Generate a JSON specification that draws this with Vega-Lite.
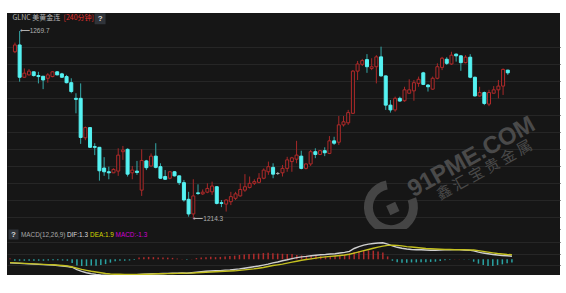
{
"$schema": "https://vega.github.io/schema/vega-lite/v6.json",
"background": "white",
"padding": {"left": 7, "top": 13, "right": 6, "bottom": 18},
"spacing": 0,
"bounds": "flush",
"config": {"view": {"fill": "#161616", "stroke": null}, "axis": {"labels": false, "ticks": false, "title": null, "domain": false, "grid": false, "minExtent": 0, "maxExtent": 0, "labelOverlap": false}},
"datasets": {
"k": [
{"i":0,"open":1263.6,"high":1266.3,"low":1263.2,"close":1265.6},
{"i":1,"open":1265.6,"high":1269.7,"low":1254.8,"close":1256.1},
{"i":2,"open":1256.1,"high":1258.7,"low":1256.0,"close":1257.3},
{"i":3,"open":1256.8,"high":1258.5,"low":1256.6,"close":1257.9},
{"i":4,"open":1257.7,"high":1257.8,"low":1256.3,"close":1256.6},
{"i":5,"open":1256.6,"high":1257.7,"low":1254.3,"close":1256.3},
{"i":6,"open":1256.4,"high":1256.5,"low":1252.6,"close":1255.3},
{"i":7,"open":1255.8,"high":1257.3,"low":1254.5,"close":1256.8},
{"i":8,"open":1256.3,"high":1257.9,"low":1256.1,"close":1257.7},
{"i":9,"open":1257.7,"high":1257.9,"low":1256.7,"close":1256.8},
{"i":10,"open":1257.1,"high":1257.4,"low":1255.9,"close":1256.1},
{"i":11,"open":1256.3,"high":1256.8,"low":1254.3,"close":1254.5},
{"i":12,"open":1254.5,"high":1255.8,"low":1251.4,"close":1251.9},
{"i":13,"open":1249.9,"high":1251.4,"low":1245.5,"close":1249.6},
{"i":14,"open":1249.9,"high":1254.3,"low":1236.5,"close":1238.4},
{"i":15,"open":1238.3,"high":1241.6,"low":1237.6,"close":1241.3},
{"i":16,"open":1241.3,"high":1241.4,"low":1235.3,"close":1235.5},
{"i":17,"open":1235.7,"high":1236.7,"low":1233.2,"close":1235.5},
{"i":18,"open":1235.5,"high":1235.6,"low":1225.7,"close":1228.6},
{"i":19,"open":1229.4,"high":1232.6,"low":1227.1,"close":1228.3},
{"i":20,"open":1228.3,"high":1229.8,"low":1226.1,"close":1228.0},
{"i":21,"open":1228.0,"high":1229.3,"low":1227.9,"close":1229.0},
{"i":22,"open":1228.5,"high":1235.2,"low":1227.1,"close":1233.2},
{"i":23,"open":1234.2,"high":1235.9,"low":1231.8,"close":1234.7},
{"i":24,"open":1234.9,"high":1235.2,"low":1226.9,"close":1227.6},
{"i":25,"open":1228.0,"high":1230.0,"low":1226.1,"close":1228.8},
{"i":26,"open":1228.5,"high":1231.5,"low":1227.4,"close":1228.1},
{"i":27,"open":1222.9,"high":1234.9,"low":1221.2,"close":1231.6},
{"i":28,"open":1231.5,"high":1231.8,"low":1228.8,"close":1229.5},
{"i":29,"open":1230.0,"high":1233.7,"low":1229.8,"close":1232.9},
{"i":30,"open":1232.9,"high":1236.7,"low":1229.3,"close":1229.6},
{"i":31,"open":1229.8,"high":1230.8,"low":1226.2,"close":1226.4},
{"i":32,"open":1226.9,"high":1228.8,"low":1225.9,"close":1226.1},
{"i":33,"open":1226.4,"high":1228.5,"low":1226.1,"close":1228.3},
{"i":34,"open":1228.3,"high":1228.5,"low":1226.9,"close":1227.1},
{"i":35,"open":1227.1,"high":1227.2,"low":1224.4,"close":1225.1},
{"i":36,"open":1225.1,"high":1225.9,"low":1219.5,"close":1220.0},
{"i":37,"open":1220.2,"high":1222.4,"low":1215.1,"close":1215.9},
{"i":38,"open":1215.9,"high":1226.1,"low":1214.3,"close":1221.2},
{"i":39,"open":1222.1,"high":1224.6,"low":1221.5,"close":1221.9},
{"i":40,"open":1221.8,"high":1223.1,"low":1221.5,"close":1222.3},
{"i":41,"open":1222.3,"high":1224.9,"low":1222.0,"close":1223.4},
{"i":42,"open":1222.4,"high":1225.4,"low":1221.5,"close":1224.1},
{"i":43,"open":1223.9,"high":1224.1,"low":1218.7,"close":1219.0},
{"i":44,"open":1219.2,"high":1220.0,"low":1217.9,"close":1219.0},
{"i":45,"open":1218.8,"high":1220.2,"low":1216.6,"close":1220.0},
{"i":46,"open":1219.5,"high":1222.4,"low":1218.5,"close":1221.0},
{"i":47,"open":1220.5,"high":1222.4,"low":1220.0,"close":1221.8},
{"i":48,"open":1221.2,"high":1224.9,"low":1221.0,"close":1223.1},
{"i":49,"open":1222.9,"high":1227.6,"low":1222.4,"close":1223.9},
{"i":50,"open":1223.7,"high":1226.9,"low":1223.4,"close":1224.9},
{"i":51,"open":1224.9,"high":1226.1,"low":1224.4,"close":1225.4},
{"i":52,"open":1225.2,"high":1227.9,"low":1224.9,"close":1226.4},
{"i":53,"open":1226.4,"high":1229.3,"low":1226.1,"close":1228.8},
{"i":54,"open":1228.3,"high":1231.3,"low":1227.4,"close":1229.8},
{"i":55,"open":1229.6,"high":1230.8,"low":1226.4,"close":1227.6},
{"i":56,"open":1227.8,"high":1228.2,"low":1227.4,"close":1227.8},
{"i":57,"open":1228.0,"high":1230.3,"low":1226.9,"close":1229.3},
{"i":58,"open":1229.3,"high":1232.7,"low":1228.3,"close":1231.8},
{"i":59,"open":1231.3,"high":1232.7,"low":1228.3,"close":1232.4},
{"i":60,"open":1232.0,"high":1237.4,"low":1230.8,"close":1233.2},
{"i":61,"open":1232.9,"high":1234.5,"low":1229.0,"close":1229.3},
{"i":62,"open":1229.3,"high":1230.8,"low":1229.0,"close":1230.6},
{"i":63,"open":1230.6,"high":1234.7,"low":1230.0,"close":1234.2},
{"i":64,"open":1234.2,"high":1235.2,"low":1232.3,"close":1233.4},
{"i":65,"open":1233.4,"high":1234.7,"low":1233.2,"close":1234.5},
{"i":66,"open":1234.5,"high":1235.5,"low":1232.9,"close":1233.9},
{"i":67,"open":1233.7,"high":1238.8,"low":1233.5,"close":1237.4},
{"i":68,"open":1237.4,"high":1238.6,"low":1236.2,"close":1236.7},
{"i":69,"open":1237.0,"high":1244.7,"low":1236.2,"close":1242.1},
{"i":70,"open":1242.1,"high":1244.7,"low":1241.6,"close":1243.0},
{"i":71,"open":1242.7,"high":1246.5,"low":1242.1,"close":1245.7},
{"i":72,"open":1245.5,"high":1258.2,"low":1245.3,"close":1257.9},
{"i":73,"open":1257.9,"high":1260.9,"low":1255.3,"close":1260.0},
{"i":74,"open":1259.9,"high":1261.5,"low":1259.4,"close":1261.0},
{"i":75,"open":1261.3,"high":1262.9,"low":1257.4,"close":1259.2},
{"i":76,"open":1258.7,"high":1261.7,"low":1258.2,"close":1259.2},
{"i":77,"open":1259.2,"high":1262.6,"low":1254.3,"close":1262.1},
{"i":78,"open":1262.1,"high":1265.1,"low":1256.3,"close":1256.5},
{"i":79,"open":1256.5,"high":1256.6,"low":1246.5,"close":1247.9},
{"i":80,"open":1247.9,"high":1249.4,"low":1245.7,"close":1246.5},
{"i":81,"open":1246.5,"high":1250.4,"low":1246.0,"close":1249.9},
{"i":82,"open":1249.9,"high":1250.4,"low":1248.9,"close":1249.1},
{"i":83,"open":1249.2,"high":1253.3,"low":1248.9,"close":1252.4},
{"i":84,"open":1251.4,"high":1255.5,"low":1251.4,"close":1252.4},
{"i":85,"open":1252.1,"high":1255.3,"low":1249.2,"close":1254.5},
{"i":86,"open":1254.3,"high":1256.3,"low":1253.3,"close":1255.5},
{"i":87,"open":1257.4,"high":1257.7,"low":1253.8,"close":1254.0},
{"i":88,"open":1253.8,"high":1254.1,"low":1251.9,"close":1253.3},
{"i":89,"open":1252.6,"high":1256.3,"low":1252.4,"close":1255.8},
{"i":90,"open":1255.8,"high":1260.2,"low":1255.5,"close":1259.2},
{"i":91,"open":1259.0,"high":1262.1,"low":1258.2,"close":1261.7},
{"i":92,"open":1261.4,"high":1262.0,"low":1259.7,"close":1260.2},
{"i":93,"open":1260.0,"high":1263.6,"low":1259.7,"close":1262.6},
{"i":94,"open":1262.9,"high":1263.1,"low":1260.7,"close":1262.4},
{"i":95,"open":1262.4,"high":1262.6,"low":1258.0,"close":1260.4},
{"i":96,"open":1260.4,"high":1262.6,"low":1260.2,"close":1262.0},
{"i":97,"open":1262.0,"high":1262.9,"low":1255.8,"close":1256.1},
{"i":98,"open":1256.1,"high":1256.3,"low":1250.5,"close":1250.6},
{"i":99,"open":1250.6,"high":1253.3,"low":1250.4,"close":1251.6},
{"i":100,"open":1251.6,"high":1251.9,"low":1247.9,"close":1248.4},
{"i":101,"open":1248.2,"high":1252.4,"low":1247.6,"close":1251.6},
{"i":102,"open":1251.4,"high":1253.5,"low":1251.4,"close":1252.4},
{"i":103,"open":1252.4,"high":1255.3,"low":1249.9,"close":1253.5},
{"i":104,"open":1253.5,"high":1258.7,"low":1250.9,"close":1258.4},
{"i":105,"open":1258.2,"high":1258.3,"low":1256.8,"close":1257.4}
],
"m": [
{"i":0,"dif":-1.5,"dea":-1.4,"macd":0.3},
{"i":1,"dif":-1.6,"dea":-1.5,"macd":-0.6},
{"i":2,"dif":-1.7,"dea":-1.6,"macd":-0.6},
{"i":3,"dif":-1.8,"dea":-1.7,"macd":-0.6},
{"i":4,"dif":-1.9,"dea":-1.8,"macd":-0.6},
{"i":5,"dif":-2.0,"dea":-1.9,"macd":-0.6},
{"i":6,"dif":-2.1,"dea":-2.0,"macd":-0.6},
{"i":7,"dif":-2.2,"dea":-2.1,"macd":-0.6},
{"i":8,"dif":-2.3,"dea":-2.2,"macd":-0.5},
{"i":9,"dif":-2.4,"dea":-2.3,"macd":-0.4},
{"i":10,"dif":-2.6,"dea":-2.45,"macd":-0.4},
{"i":11,"dif":-2.8,"dea":-2.6,"macd":-0.5},
{"i":12,"dif":-3.0,"dea":-2.8,"macd":-0.6},
{"i":13,"dif":-3.3,"dea":-3.2,"macd":-1.5},
{"i":14,"dif":-4.3,"dea":-3.7,"macd":-2.6},
{"i":15,"dif":-5.0,"dea":-4.2,"macd":-2.8},
{"i":16,"dif":-5.6,"dea":-4.6,"macd":-2.8},
{"i":17,"dif":-6.0,"dea":-5.0,"macd":-2.6},
{"i":18,"dif":-6.3,"dea":-5.3,"macd":-2.7},
{"i":19,"dif":-6.5,"dea":-5.6,"macd":-2.4},
{"i":20,"dif":-6.6,"dea":-5.9,"macd":-2.0},
{"i":21,"dif":-6.7,"dea":-6.1,"macd":-1.4},
{"i":22,"dif":-6.6,"dea":-6.2,"macd":-0.8},
{"i":23,"dif":-6.5,"dea":-6.25,"macd":-0.6},
{"i":24,"dif":-6.6,"dea":-6.3,"macd":-0.6},
{"i":25,"dif":-6.6,"dea":-6.3,"macd":-0.5},
{"i":26,"dif":-6.5,"dea":-6.3,"macd":-0.3},
{"i":27,"dif":-6.3,"dea":-6.3,"macd":0.8},
{"i":28,"dif":-6.2,"dea":-6.25,"macd":0.9},
{"i":29,"dif":-6.1,"dea":-6.2,"macd":1.0},
{"i":30,"dif":-6.0,"dea":-6.1,"macd":0.9},
{"i":31,"dif":-6.0,"dea":-6.05,"macd":0.8},
{"i":32,"dif":-5.9,"dea":-6.0,"macd":0.7},
{"i":33,"dif":-5.85,"dea":-5.95,"macd":0.7},
{"i":34,"dif":-5.8,"dea":-5.9,"macd":0.6},
{"i":35,"dif":-5.8,"dea":-5.85,"macd":0.3},
{"i":36,"dif":-5.7,"dea":-5.8,"macd":0.1},
{"i":37,"dif":-5.8,"dea":-5.75,"macd":-0.2},
{"i":38,"dif":-5.6,"dea":-5.7,"macd":0.1},
{"i":39,"dif":-5.4,"dea":-5.6,"macd":0.5},
{"i":40,"dif":-5.2,"dea":-5.5,"macd":0.7},
{"i":41,"dif":-5.0,"dea":-5.4,"macd":0.9},
{"i":42,"dif":-4.9,"dea":-5.3,"macd":1.1},
{"i":43,"dif":-4.8,"dea":-5.2,"macd":0.9},
{"i":44,"dif":-4.7,"dea":-5.1,"macd":1.0},
{"i":45,"dif":-4.5,"dea":-5.0,"macd":1.2},
{"i":46,"dif":-4.4,"dea":-4.9,"macd":1.4},
{"i":47,"dif":-4.2,"dea":-4.8,"macd":1.5},
{"i":48,"dif":-4.0,"dea":-4.6,"macd":1.8},
{"i":49,"dif":-3.7,"dea":-4.4,"macd":2.0},
{"i":50,"dif":-3.4,"dea":-4.2,"macd":2.2},
{"i":51,"dif":-3.1,"dea":-4.0,"macd":2.3},
{"i":52,"dif":-2.8,"dea":-3.7,"macd":2.4},
{"i":53,"dif":-2.4,"dea":-3.4,"macd":2.6},
{"i":54,"dif":-2.0,"dea":-3.0,"macd":2.7},
{"i":55,"dif":-1.5,"dea":-2.6,"macd":2.5},
{"i":56,"dif":-1.1,"dea":-2.3,"macd":2.4},
{"i":57,"dif":-0.6,"dea":-2.0,"macd":2.3},
{"i":58,"dif":-0.2,"dea":-1.6,"macd":2.2},
{"i":59,"dif":0.3,"dea":-1.2,"macd":2.2},
{"i":60,"dif":0.7,"dea":-0.8,"macd":1.8},
{"i":61,"dif":1.0,"dea":-0.4,"macd":1.6},
{"i":62,"dif":1.2,"dea":-0.1,"macd":1.5},
{"i":63,"dif":1.5,"dea":0.2,"macd":1.4},
{"i":64,"dif":1.7,"dea":0.5,"macd":1.4},
{"i":65,"dif":1.9,"dea":0.8,"macd":1.3},
{"i":66,"dif":2.0,"dea":1.0,"macd":1.3},
{"i":67,"dif":2.2,"dea":1.2,"macd":1.4},
{"i":68,"dif":2.3,"dea":1.4,"macd":1.5},
{"i":69,"dif":2.6,"dea":1.6,"macd":1.8},
{"i":70,"dif":2.9,"dea":1.8,"macd":2.0},
{"i":71,"dif":3.3,"dea":2.1,"macd":2.4},
{"i":72,"dif":4.5,"dea":2.6,"macd":3.0},
{"i":73,"dif":5.3,"dea":3.1,"macd":3.4},
{"i":74,"dif":5.9,"dea":3.6,"macd":3.7},
{"i":75,"dif":6.3,"dea":4.1,"macd":3.7},
{"i":76,"dif":6.6,"dea":4.6,"macd":3.6},
{"i":77,"dif":6.8,"dea":5.1,"macd":3.3},
{"i":78,"dif":6.9,"dea":5.5,"macd":2.8},
{"i":79,"dif":6.3,"dea":5.8,"macd":1.2},
{"i":80,"dif":5.6,"dea":5.9,"macd":-0.6},
{"i":81,"dif":5.0,"dea":5.8,"macd":-1.2},
{"i":82,"dif":4.6,"dea":5.6,"macd":-1.4},
{"i":83,"dif":4.3,"dea":5.3,"macd":-1.4},
{"i":84,"dif":4.1,"dea":5.1,"macd":-1.3},
{"i":85,"dif":4.0,"dea":4.9,"macd":-1.3},
{"i":86,"dif":4.0,"dea":4.7,"macd":-1.2},
{"i":87,"dif":3.9,"dea":4.5,"macd":-1.2},
{"i":88,"dif":3.8,"dea":4.4,"macd":-1.1},
{"i":89,"dif":3.8,"dea":4.3,"macd":-1.0},
{"i":90,"dif":3.9,"dea":4.2,"macd":-0.7},
{"i":91,"dif":4.0,"dea":4.1,"macd":-0.4},
{"i":92,"dif":4.0,"dea":4.1,"macd":-0.2},
{"i":93,"dif":4.05,"dea":4.0,"macd":0.1},
{"i":94,"dif":4.05,"dea":4.0,"macd":0.1},
{"i":95,"dif":3.9,"dea":3.95,"macd":-0.1},
{"i":96,"dif":3.8,"dea":3.9,"macd":-0.1},
{"i":97,"dif":3.5,"dea":3.85,"macd":-1.0},
{"i":98,"dif":3.0,"dea":3.6,"macd":-1.8},
{"i":99,"dif":2.6,"dea":3.3,"macd":-2.4},
{"i":100,"dif":2.3,"dea":3.0,"macd":-2.8},
{"i":101,"dif":2.0,"dea":2.7,"macd":-2.8},
{"i":102,"dif":1.8,"dea":2.4,"macd":-2.4},
{"i":103,"dif":1.6,"dea":2.2,"macd":-2.1},
{"i":104,"dif":1.5,"dea":2.0,"macd":-1.6},
{"i":105,"dif":1.3,"dea":1.9,"macd":-1.3}
]
},
"vconcat": [
{
"width": 553,
"height": 216,
"layer": [
{"data": {"values": [{"label": "91PME.COM"}]},
 "mark": {"type": "text", "angle": -29, "fontSize": 24, "fontWeight": "bold", "font": "Liberation Sans", "color": "#4a4a4a", "align": "center", "baseline": "middle"},
 "encoding": {
  "x": {"datum": 97.3, "type": "quantitative", "scale": {"domain": [-0.628, 115.06], "nice": false, "zero": false}, "axis": {"domain": true, "domainColor": "#2e2e2e", "orient": "bottom"}},
  "y": {"datum": 1232.6, "type": "quantitative", "scale": {"domain": [1211.47, 1275], "nice": false, "zero": false}, "axis": {"grid": true, "gridColor": "#262626", "gridOpacity": 1, "tickCount": 100, "values": [1215, 1220, 1225, 1230, 1235, 1240, 1245, 1250, 1255, 1260, 1265]}},
  "text": {"field": "label"}}},
{"data": {"values": [{"label": "鑫 汇 宝 贵 金 属"}]},
 "mark": {"type": "text", "angle": -29, "fontSize": 15, "font": "Noto Sans CJK SC", "color": "#4a4a4a", "align": "center", "baseline": "middle"},
 "encoding": {"x": {"datum": 100}, "y": {"datum": 1228.8}, "text": {"field": "label"}}},
{"data": {"values": [{"label": "logo"}]},
 "mark": {"type": "arc", "radius": 27, "radius2": 18, "theta": 1.2, "theta2": 6.1, "color": "#454545"},
 "encoding": {"x": {"datum": 80.1}, "y": {"datum": 1217.9}}},
{"data": {"values": [{"label": "logo"}]},
 "mark": {"type": "point", "shape": "square", "filled": true, "size": 100, "angle": -25, "color": "#454545", "opacity": 1},
 "encoding": {"x": {"datum": 80.5}, "y": {"datum": 1217.5}}},
{"data": {"name": "k"},
 "mark": {"type": "rule", "strokeWidth": 1},
 "encoding": {
  "x": {"field": "i", "type": "quantitative"},
  "y": {"field": "low", "type": "quantitative"},
  "y2": {"field": "high"},
  "color": {"condition": [{"test": "datum.close > datum.open", "value": "#a82828"}, {"test": "datum.close == datum.open", "value": "#aaaaaa"}], "value": "#35a9a9"}}},
{"data": {"name": "k"},
 "mark": {"type": "bar", "size": 3, "strokeWidth": 1},
 "encoding": {
  "x": {"field": "i", "type": "quantitative"},
  "y": {"field": "open", "type": "quantitative"},
  "y2": {"field": "close"},
  "fill": {"condition": [{"test": "datum.close > datum.open", "value": "#161616"}, {"test": "datum.close == datum.open", "value": "#aaaaaa"}], "value": "#55f2f2"},
  "stroke": {"condition": [{"test": "datum.close > datum.open", "value": "#b02a2a"}, {"test": "datum.close == datum.open", "value": "#aaaaaa"}], "value": "#55f2f2"}}},
{"data": {"values": [{"i": 1, "price": 1269.7, "label": "⟵1269.7"}, {"i": 38, "price": 1214.3, "label": "⟵1214.3"}]},
 "mark": {"type": "text", "align": "left", "baseline": "middle", "fontSize": 6.5, "font": "Liberation Sans", "color": "#b0b0b0"},
 "encoding": {"x": {"field": "i", "type": "quantitative"}, "y": {"field": "price", "type": "quantitative"}, "text": {"field": "label"}}},
{"data": {"values": [{"label": "GLNC 美黄金连"}]},
 "mark": {"type": "text", "align": "left", "baseline": "middle", "fontSize": 7, "font": "Noto Sans CJK SC", "color": "#b4b4b4"},
 "encoding": {"x": {"datum": -0.52}, "y": {"datum": 1273.44}, "text": {"field": "label"}}},
{"data": {"values": [{"label": "[240分钟]"}]},
 "mark": {"type": "text", "align": "left", "baseline": "middle", "fontSize": 7, "font": "Noto Sans CJK SC", "color": "#e0302e"},
 "encoding": {"x": {"datum": 10.35}, "y": {"datum": 1273.44}, "text": {"field": "label"}}},
{"data": {"values": [{"label": "?"}]},
 "mark": {"type": "point", "shape": "square", "filled": true, "size": 120, "color": "#30343a", "opacity": 1},
 "encoding": {"x": {"datum": 18.14}, "y": {"datum": 1273.3}}},
{"data": {"values": [{"label": "?"}]},
 "mark": {"type": "text", "align": "center", "baseline": "middle", "fontSize": 8, "fontWeight": "bold", "font": "Liberation Sans", "color": "#d8d8d8"},
 "encoding": {"x": {"datum": 18.14}, "y": {"datum": 1273.3}, "text": {"field": "label"}}}
]
},
{
"width": 553,
"height": 46,
"layer": [
{"data": {"name": "m"},
 "mark": {"type": "rule", "strokeWidth": 1.5},
 "encoding": {
  "x": {"field": "i", "type": "quantitative", "scale": {"domain": [-0.628, 115.06], "nice": false, "zero": false}, "axis": null},
  "y": {"field": "macd", "type": "quantitative", "scale": {"domain": [-6.54, 12.625], "nice": false, "zero": false}, "axis": {"grid": true, "gridColor": "#262626", "gridOpacity": 1, "tickCount": 100, "values": [-2.375, 2.08, 7.08]}},
  "y2": {"datum": 0},
  "color": {"condition": {"test": "datum.macd >= 0", "value": "#b02c2c"}, "value": "#2aa2a2"}}},
{"data": {"name": "m"},
 "mark": {"type": "line", "strokeWidth": 1.4, "color": "#cfcfcf", "clip": true},
 "encoding": {"x": {"field": "i", "type": "quantitative"}, "y": {"field": "dif", "type": "quantitative"}}},
{"data": {"name": "m"},
 "mark": {"type": "line", "strokeWidth": 1.4, "color": "#c4c020", "clip": true},
 "encoding": {"x": {"field": "i", "type": "quantitative"}, "y": {"field": "dea", "type": "quantitative"}}},
{"data": {"values": [{"label": "?"}]},
 "mark": {"type": "point", "shape": "square", "filled": true, "size": 100, "color": "#30343a", "opacity": 1},
 "encoding": {"x": {"datum": 0.73}, "y": {"datum": 10.33}}},
{"data": {"values": [{"label": "?"}]},
 "mark": {"type": "text", "align": "center", "baseline": "middle", "fontSize": 8, "fontWeight": "bold", "font": "Liberation Sans", "color": "#d8d8d8"},
 "encoding": {"x": {"datum": 0.73}, "y": {"datum": 10.33}, "text": {"field": "label"}}},
{"data": {"values": [{"label": "MACD(12,26,9)"}]},
 "mark": {"type": "text", "align": "left", "baseline": "middle", "fontSize": 6.4, "font": "Liberation Sans", "color": "#a8a8a8"},
 "encoding": {"x": {"datum": 2.3}, "y": {"datum": 10.33}, "text": {"field": "label"}}},
{"data": {"values": [{"label": "DIF:1.3"}]},
 "mark": {"type": "text", "align": "left", "baseline": "middle", "fontSize": 6.4, "font": "Liberation Sans", "color": "#dcdcdc"},
 "encoding": {"x": {"datum": 11.92}, "y": {"datum": 10.33}, "text": {"field": "label"}}},
{"data": {"values": [{"label": "DEA:1.9"}]},
 "mark": {"type": "text", "align": "left", "baseline": "middle", "fontSize": 6.4, "font": "Liberation Sans", "color": "#d6d600"},
 "encoding": {"x": {"datum": 16.74}, "y": {"datum": 10.33}, "text": {"field": "label"}}},
{"data": {"values": [{"label": "MACD:-1.3"}]},
 "mark": {"type": "text", "align": "left", "baseline": "middle", "fontSize": 6.4, "font": "Liberation Sans", "color": "#d000d0"},
 "encoding": {"x": {"datum": 22.09}, "y": {"datum": 10.33}, "text": {"field": "label"}}}
]
}
]
}
